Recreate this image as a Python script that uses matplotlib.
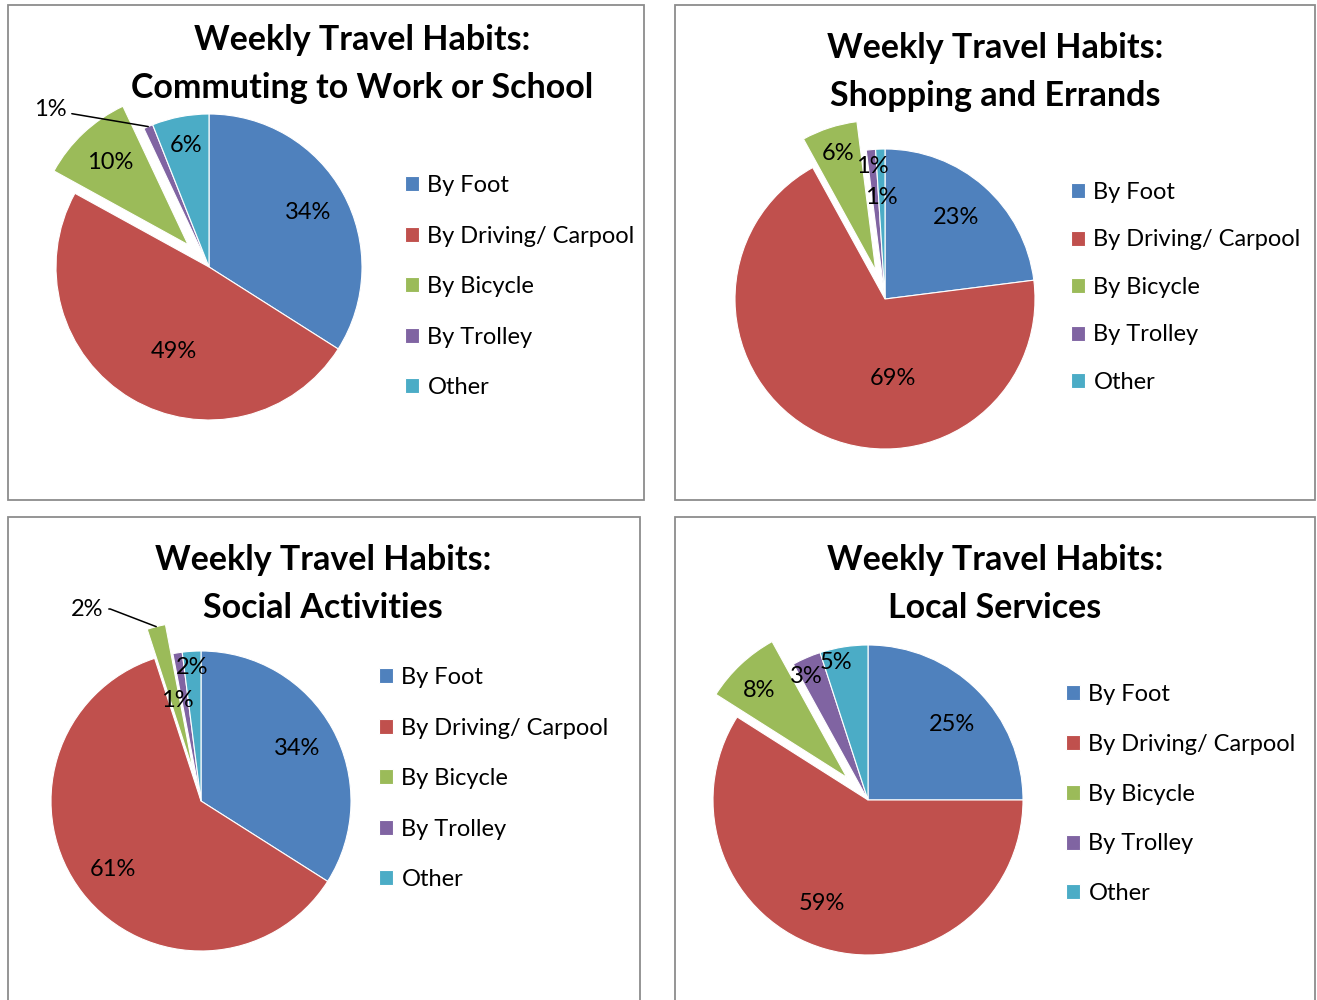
import matplotlib
matplotlib.use("Agg")
import numpy as np
import matplotlib.pyplot as plt
from matplotlib.patches import Rectangle

plt.rcParams['font.family'] = ['Lato', 'DejaVu Sans']

# ---- data ----
categories = ["By Foot", "By Driving/ Carpool", "By Bicycle", "By Trolley", "Other"]
colors = ["#4F81BD", "#C0504D", "#9BBB59", "#8064A2", "#4BACC6"]

titles = [
    "Weekly Travel Habits:\nCommuting to Work or School",
    "Weekly Travel Habits:\nShopping and Errands",
    "Weekly Travel Habits:\nSocial Activities",
    "Weekly Travel Habits:\nLocal Services",
]
commuting = [34, 49, 10, 1, 6]
shopping = [23, 69, 6, 1, 1]
social = [34, 61, 2, 1, 2]
services = [25, 59, 8, 3, 5]
all_values = [commuting, shopping, social, services]

# ---- layout (pixels in a 1317x1000 canvas) ----
W, H = 1317, 1000
panels = [(8, 5, 636, 495), (675, 5, 640, 495), (8, 517, 632, 490), (675, 517, 640, 490)]
pie_centers = [(209, 267, 153), (885, 299, 150), (201, 801, 150), (868, 800, 155)]
title_pos = [(362, 64), (995, 72), (323, 584), (995, 584)]
legend_pos = [(405, 175), (1071, 182), (379, 667), (1066, 684)]
legend_gap = [1.25, 1.12, 1.25, 1.22]
explode_amt = 0.2

# label placement per wedge: (radius, angle offset in deg), None -> leader line outside
label_place = [
    [(0.74, 0), (0.60, 8), (0.74, 0), None, (0.81, 0)],
    [(0.72, 0), (0.53, 33), (0.82, 0), (0.89, 0), (0.68, 0)],
    [(0.73, 0), (0.74, 0), None, (0.69, 4), (0.89, 0)],
    [(0.73, -3), (0.73, -8), (0.80, 2), (0.89, 3), (0.91, 4)],
]
leader_text = {0: (50, 110), 2: (87, 609)}
leader_style = {0: "arc3,rad=0", 2: "angle,angleA=0,angleB=159,rad=0"}


def fx(x):
    return x / W


def fy(y):
    return 1 - y / H


fig = plt.figure(figsize=(W / 100, H / 100), dpi=100)

for i, vals in enumerate(all_values):
    px, py, pw, ph = panels[i]
    fig.patches.append(Rectangle((fx(px), fy(py + ph)), pw / W, ph / H,
                                 transform=fig.transFigure, fill=False,
                                 edgecolor="#8C8C8C", linewidth=1.3))

    cx, cy, R = pie_centers[i]
    m = 1.5
    ax = fig.add_axes([fx(cx - m * R), fy(cy + m * R), 2 * m * R / W, 2 * m * R / H])
    explode = [explode_amt if c == "By Bicycle" else 0 for c in categories]
    wedges, _ = ax.pie(vals, colors=colors, explode=explode, startangle=90,
                       counterclock=False, radius=1,
                       wedgeprops=dict(edgecolor="white", linewidth=0.8))
    ax.set_xlim(-m, m)
    ax.set_ylim(-m, m)
    ax.set_aspect("equal")
    ax.axis("off")

    for j, w in enumerate(wedges):
        place = label_place[i][j]
        mid = np.deg2rad((w.theta1 + w.theta2) / 2)
        ox, oy = w.center
        if place is None:
            tx, ty = leader_text[i]
            tip = (ox + np.cos(mid), oy + np.sin(mid))
            ax.annotate(f"{vals[j]}%", xy=tip, xytext=((tx - cx) / R, (cy - ty) / R),
                        fontsize=17, ha="center", va="center", annotation_clip=False,
                        arrowprops=dict(arrowstyle="-", color="black", lw=1.1,
                                        shrinkA=2, shrinkB=0,
                                        connectionstyle=leader_style[i]))
            continue
        r, off = place
        a = mid + np.deg2rad(off)
        ax.text(ox + r * np.cos(a), oy + r * np.sin(a), f"{vals[j]}%",
                ha="center", va="center", fontsize=17)

    tx, ty = title_pos[i]
    fig.text(fx(tx), fy(ty), titles[i], ha="center", va="center",
             fontsize=24.5, fontweight="bold", linespacing=1.58)

    lx, ly = legend_pos[i]
    fig.legend(wedges, categories, loc="upper left",
               bbox_to_anchor=(fx(lx), fy(ly)), bbox_transform=fig.transFigure,
               frameon=False, fontsize=17, handlelength=0.6, handleheight=0.6,
               handletextpad=0.35, labelspacing=legend_gap[i], borderpad=0,
               borderaxespad=0)

fig.savefig("out.png", dpi=100)
